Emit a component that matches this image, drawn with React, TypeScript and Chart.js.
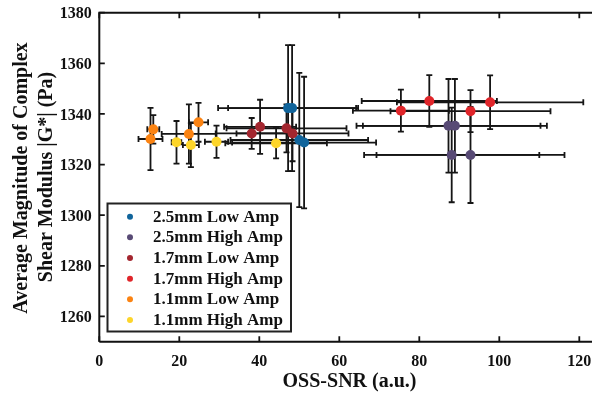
import React, { useEffect, useRef } from "react";
import { Chart, registerables } from "chart.js";

Chart.register(...registerables);

const seriesNames = [
  "2.5mm Low Amp",
  "2.5mm High Amp",
  "1.7mm Low Amp",
  "1.7mm High Amp",
  "1.1mm Low Amp",
  "1.1mm High Amp",
];
const seriesColors = ["#10649b", "#584a75", "#a3262f", "#e0252a", "#fb8312", "#fdd52a"];

const lowAmp25X = [47.2, 48.2, 50.0, 51.2];
const lowAmp25Y = [1342.3, 1342.3, 1329.7, 1328.7];
const lowAmp25XErr = [17.5, 16.0, 17.2, 18.0];
const lowAmp25YErr = [24.9, 24.9, 26.5, 26.0];

const highAmp25X = [87.3, 88.9, 88.1, 92.8];
const highAmp25Y = [1335.3, 1335.3, 1323.8, 1323.8];
const highAmp25XErr = [23.0, 23.0, 21.9, 23.5];
const highAmp25YErr = [18.5, 18.5, 18.7, 19.0];

const lowAmp17X = [38.1, 40.2, 46.8, 48.3];
const lowAmp17Y = [1332.3, 1334.9, 1334.3, 1332.3];
const lowAmp17XErr = [9.0, 9.0, 15.0, 14.0];
const lowAmp17YErr = [6.1, 10.7, 9.5, 11.0];

const highAmp17X = [75.4, 82.5, 92.8, 97.7];
const highAmp17Y = [1341.3, 1345.1, 1341.1, 1344.6];
const highAmp17XErr = [12.0, 16.9, 20.0, 23.3];
const highAmp17YErr = [8.3, 10.2, 8.3, 10.6];

const lowAmp11X = [12.8, 13.5, 22.4, 24.8];
const lowAmp11Y = [1330.1, 1333.9, 1332.1, 1336.7];
const lowAmp11XErr = [3.0, 1.5, 6.8, 2.4];
const lowAmp11YErr = [12.3, 5.6, 11.7, 7.7];

const highAmp11X = [19.3, 22.9, 29.3, 44.2];
const highAmp11Y = [1328.8, 1327.7, 1329.0, 1328.4];
const highAmp11XErr = [1.2, 2.0, 2.9, 12.7];
const highAmp11YErr = [8.4, 8.7, 6.4, 6.0];

const xTicks = [0, 20, 40, 60, 80, 100, 120];
const yTicks = [1260, 1280, 1300, 1320, 1340, 1360, 1380];
const xTitle = "OSS-SNR (a.u.)";
const yTitleLines = ["Average Magnitude of Complex", "Shear Modulus |G*| (Pa)"];

const allX = [lowAmp25X, highAmp25X, lowAmp17X, highAmp17X, lowAmp11X, highAmp11X];
const allY = [lowAmp25Y, highAmp25Y, lowAmp17Y, highAmp17Y, lowAmp11Y, highAmp11Y];
const allXErr = [lowAmp25XErr, highAmp25XErr, lowAmp17XErr, highAmp17XErr, lowAmp11XErr, highAmp11XErr];
const allYErr = [lowAmp25YErr, highAmp25YErr, lowAmp17YErr, highAmp17YErr, lowAmp11YErr, highAmp11YErr];

const FONT = "'Liberation Serif', 'Times New Roman', serif";

const errorBarPlugin = {
  id: "errorBars",
  beforeDatasetsDraw(chart: any) {
    const { ctx, scales } = chart;
    const xs = scales.x;
    const ys = scales.y;
    const cap = 3;
    ctx.save();
    ctx.strokeStyle = "#151515";
    ctx.lineWidth = 1.8;
    for (let s = 0; s < allX.length; s++) {
      for (let i = 0; i < allX[s].length; i++) {
        const x = allX[s][i];
        const y = allY[s][i];
        const xe = allXErr[s][i];
        const ye = allYErr[s][i];
        const px = xs.getPixelForValue(x);
        const py = ys.getPixelForValue(y);
        const x0 = xs.getPixelForValue(x - xe);
        const x1 = xs.getPixelForValue(x + xe);
        const y0 = ys.getPixelForValue(y - ye);
        const y1 = ys.getPixelForValue(y + ye);
        ctx.beginPath();
        ctx.moveTo(px, y0);
        ctx.lineTo(px, y1);
        ctx.moveTo(px - cap, y0);
        ctx.lineTo(px + cap, y0);
        ctx.moveTo(px - cap, y1);
        ctx.lineTo(px + cap, y1);
        ctx.moveTo(x0, py);
        ctx.lineTo(x1, py);
        ctx.moveTo(x0, py - cap);
        ctx.lineTo(x0, py + cap);
        ctx.moveTo(x1, py - cap);
        ctx.lineTo(x1, py + cap);
        ctx.stroke();
      }
    }
    ctx.restore();
  },
};

const frameLegendPlugin = {
  id: "frameLegend",
  afterDraw(chart: any) {
    const { ctx, chartArea, scales } = chart;
    const { left, right, top, bottom } = chartArea;
    ctx.save();
    ctx.strokeStyle = "#111";
    ctx.lineWidth = 2;
    ctx.beginPath();
    ctx.moveTo(left, bottom);
    ctx.lineTo(left, top);
    ctx.lineTo(right, top);
    ctx.lineTo(right, bottom);
    ctx.lineTo(left, bottom);
    ctx.stroke();
    ctx.lineWidth = 1.8;
    const tl = 5.5;
    ctx.beginPath();
    for (const t of xTicks) {
      const px = scales.x.getPixelForValue(t);
      ctx.moveTo(px, bottom);
      ctx.lineTo(px, bottom - tl);
      ctx.moveTo(px, top);
      ctx.lineTo(px, top + tl);
    }
    for (const t of yTicks) {
      const py = scales.y.getPixelForValue(t);
      ctx.moveTo(left, py);
      ctx.lineTo(left + tl, py);
      ctx.moveTo(right, py);
      ctx.lineTo(right - tl, py);
    }
    ctx.stroke();

    ctx.fillStyle = "#111";
    ctx.font = `bold 20px ${FONT}`;
    ctx.textAlign = "center";
    ctx.textBaseline = "middle";
    ctx.fillText(xTitle, 349.5, 382);
    ctx.save();
    ctx.translate(21.7, 178);
    ctx.rotate(-Math.PI / 2);
    ctx.fillText(yTitleLines[0], 0, 0);
    ctx.restore();
    ctx.save();
    ctx.translate(46.7, 177);
    ctx.rotate(-Math.PI / 2);
    ctx.fillText(yTitleLines[1], 0, 0);
    ctx.restore();

    const lx = 107.5;
    const ly = 203.5;
    const lw = 183.5;
    const lh = 128;
    ctx.fillStyle = "#fff";
    ctx.fillRect(lx, ly, lw, lh);
    ctx.strokeStyle = "#222";
    ctx.lineWidth = 2;
    ctx.strokeRect(lx, ly, lw, lh);
    ctx.font = `bold 17px ${FONT}`;
    ctx.textAlign = "left";
    ctx.textBaseline = "middle";
    for (let i = 0; i < seriesNames.length; i++) {
      const cy = 216.7 + i * 20.66;
      ctx.fillStyle = seriesColors[i];
      ctx.beginPath();
      ctx.arc(130, cy, 3, 0, Math.PI * 2);
      ctx.fill();
      ctx.fillStyle = "#111";
      ctx.fillText(seriesNames[i], 153, cy + 0.5);
    }
    ctx.restore();
  },
};

export default function App() {
  const canvasRef = useRef<HTMLCanvasElement | null>(null);

  useEffect(() => {
    const canvas = canvasRef.current;
    if (!canvas) return;
    const datasets = seriesNames.map((name, s) => ({
      label: name,
      data: allX[s].map((x, i) => ({ x, y: allY[s][i] })),
      backgroundColor: seriesColors[s],
      borderColor: seriesColors[s],
      pointRadius: 5,
      pointBorderWidth: 0,
      showLine: false,
      order: seriesNames.length - s,
    }));
    const chart = new Chart(canvas, {
      type: "scatter",
      data: { datasets },
      plugins: [errorBarPlugin, frameLegendPlugin],
      options: {
        animation: false,
        responsive: false,
        devicePixelRatio: 1,
        layout: { padding: { left: 0, top: 12.7, right: 20.7, bottom: 0 } },
        plugins: { legend: { display: false }, tooltip: { enabled: false } },
        scales: {
          x: {
            type: "linear",
            min: 0,
            max: 125,
            grid: { display: false, drawTicks: false },
            border: { display: false },
            afterFit: (scale: any) => {
              scale.height = 53.3;
              scale.paddingLeft = 0;
              scale.paddingRight = 0;
              scale.paddingTop = 0;
              scale.paddingBottom = 0;
            },
            afterBuildTicks: (scale: any) => {
              scale.ticks = xTicks.map((v) => ({ value: v }));
            },
            ticks: {
              padding: 11,
              color: "#111",
              font: { family: FONT, size: 16, weight: "bold" },
              maxRotation: 0,
              autoSkip: false,
              callback: (v: any) => String(v),
            },
          },
          y: {
            type: "linear",
            min: 1250,
            max: 1380,
            grid: { display: false, drawTicks: false },
            border: { display: false },
            afterFit: (scale: any) => {
              scale.width = 99.3;
              scale.paddingLeft = 0;
              scale.paddingRight = 0;
              scale.paddingTop = 0;
              scale.paddingBottom = 0;
            },
            afterBuildTicks: (scale: any) => {
              scale.ticks = yTicks.map((v) => ({ value: v }));
            },
            ticks: {
              padding: 7.5,
              labelOffset: 1.5,
              color: "#111",
              font: { family: FONT, size: 16, weight: "bold" },
              autoSkip: false,
              callback: (v: any) => String(v),
            },
          },
        },
      } as any,
    });
    return () => chart.destroy();
  }, []);

  return (
    <div
      style={{
        position: "fixed",
        left: 0,
        top: 0,
        width: 592,
        height: 395,
        overflow: "hidden",
        background: "#fff",
      }}
    >
      <canvas ref={canvasRef} width={620} height={395} style={{ width: 620, height: 395, display: "block" }} />
    </div>
  );
}
